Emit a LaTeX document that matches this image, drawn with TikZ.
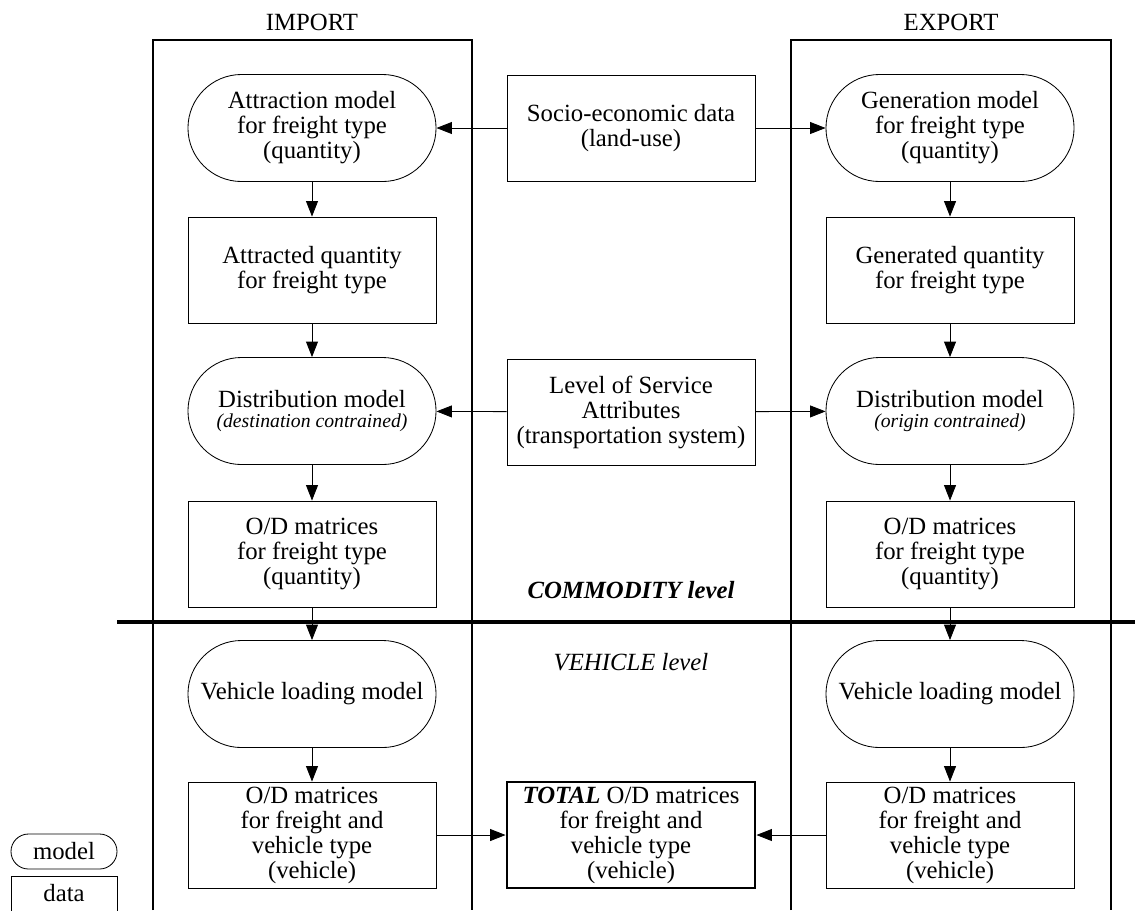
\documentclass[tikz,border=0pt]{standalone}
\usepackage{fontspec}
\setmainfont{Liberation Serif}
\usetikzlibrary{arrows.meta}
\newcommand*\constr[1]{{\fontsize{14}{16}\selectfont\itshape #1}}

\begin{document}
\begin{tikzpicture}[x=0.025cm,y=-0.025cm,
    font=\fontsize{17.6}{17.8}\selectfont,
    model/.style={draw,line width=0.6pt,rounded corners=1.3375cm,
      minimum width=6.2cm,minimum height=2.675cm,inner sep=0pt,align=center},
    data/.style={draw,line width=0.6pt,
      minimum width=6.2cm,minimum height=2.65cm,inner sep=0pt,align=center},
    flow/.style={line width=0.6pt,-{Triangle[length=11pt,width=8.5pt]}}]
\useasboundingbox (0,0) rectangle (1135,910);
% import / export frames
\draw[line width=1.1pt] (153,910) -- (153,40) -- (472,40) -- (472,910);
\draw[line width=1.1pt] (791,910) -- (791,40) -- (1111,40) -- (1111,910);
\node (imp) at (312,22.5) {IMPORT};
\node (exp) at (951,22.5) {EXPORT};
% commodity / vehicle separation
\draw[line width=2.2pt] (117,622) -- (1135,622);
\node (com) at (631,590) {\bfseries\itshape COMMODITY level};
\node (veh) at (631,662) {\itshape VEHICLE level};
% import side
\node[model] (attr) at (312,128) {Attraction model\\for freight type\\(quantity)};
\node[data]  (attq) at (312,270) {Attracted quantity\\for freight type};
\node[model] (distI) at (312,411) {Distribution model\\[-3pt]\constr{(destination contrained)}};
\node[data]  (odI) at (312,554) {O/D matrices\\for freight type\\(quantity)};
\node[model] (loadI) at (312,694) {Vehicle loading model};
\node[data]  (odvI) at (312,835) {O/D matrices\\for freight and\\vehicle type\\(vehicle)};
% export side
\node[model] (gen) at (950,128) {Generation model\\for freight type\\(quantity)};
\node[data]  (genq) at (950,270) {Generated quantity\\for freight type};
\node[model] (distE) at (950,411) {Distribution model\\[-3pt]\constr{(origin contrained)}};
\node[data]  (odE) at (950,554) {O/D matrices\\for freight type\\(quantity)};
\node[model] (loadE) at (950,694) {Vehicle loading model};
\node[data]  (odvE) at (950,835) {O/D matrices\\for freight and\\vehicle type\\(vehicle)};
% middle
\node[data] (socio) at (631,128) {Socio-economic data\\(land-use)};
\node[data] (los) at (631,412) {Level of Service\\Attributes\\(transportation system)};
\node[data,line width=2pt] (total) at (631,835)
     {\textbf{\textit{TOTAL}} O/D matrices\\for freight and\\vehicle type\\(vehicle)};
% legend
\node[model,minimum width=2.65cm,minimum height=0.875cm,rounded corners=0.4375cm]
     (lmod) at (64,851.5) {model};
\node[data,minimum width=2.65cm,minimum height=0.875cm] (ldat) at (64,893.5) {data};
% flows
\draw[flow] (socio) -- (attr);
\draw[flow] (socio) -- (gen);
\draw[flow] (los) -- (distI);
\draw[flow] (los) -- (distE);
\draw[flow] (attr) -- (attq);
\draw[flow] (attq) -- (distI);
\draw[flow] (distI) -- (odI);
\draw[flow] (odI) -- (loadI);
\draw[flow] (loadI) -- (odvI);
\draw[flow] (gen) -- (genq);
\draw[flow] (genq) -- (distE);
\draw[flow] (distE) -- (odE);
\draw[flow] (odE) -- (loadE);
\draw[flow] (loadE) -- (odvE);
\draw[flow] (odvI) -- (total);
\draw[flow] (odvE) -- (total);
\end{tikzpicture}
\end{document}
